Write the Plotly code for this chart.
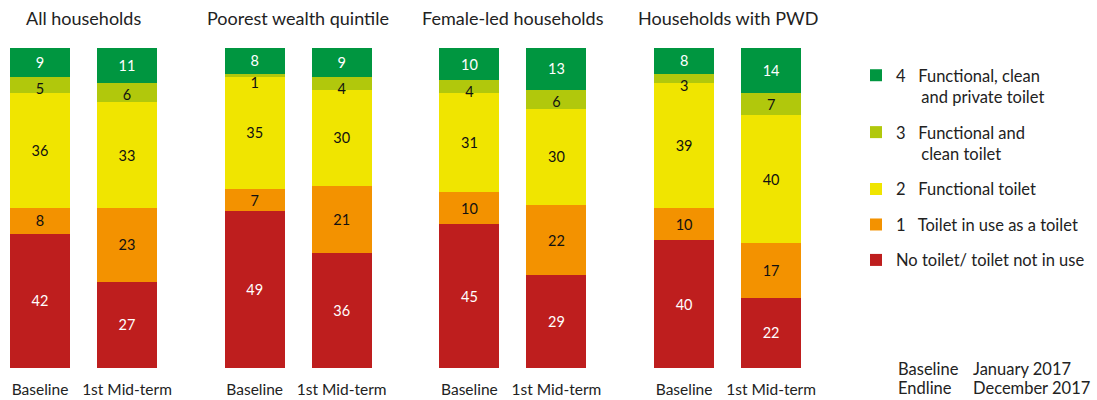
import plotly.graph_objects as go

# ---------------- data ----------------
groups = ["All households", "Poorest wealth quintile", "Female-led households", "Households with PWD"]
periods = ["Baseline", "1st Mid-term"]

no_toilet = [[42, 27], [49, 36], [45, 29], [40, 22]]
in_use = [[8, 23], [7, 21], [10, 22], [10, 17]]
functional = [[36, 33], [35, 30], [31, 30], [39, 40]]
functional_clean = [[5, 6], [1, 4], [4, 6], [3, 7]]
functional_clean_private = [[9, 11], [8, 9], [10, 13], [8, 14]]

NB = "\u00a0"
# (legend name, values, colour, label colour, label anchor)
series = [
    ("No toilet/ toilet not in use", no_toilet, "#be1e1e", "white", "middle"),
    ("1" + NB * 3 + "Toilet in use as a toilet", in_use, "#f39200", "#111111", "middle"),
    ("2" + NB * 3 + "Functional toilet", functional, "#f0e500", "#111111", "middle"),
    ("3" + NB * 3 + "Functional and<br>" + NB * 6 + "clean toilet", functional_clean, "#b1c80c", "#111111", "end"),
    ("4" + NB * 3 + "Functional, clean<br>" + NB * 6 + "and private toilet", functional_clean_private, "#009640", "white", "middle"),
]

# ---------------- layout helpers ----------------
W, H = 1097, 400
FONT = "Lato"
bar_bottom_px, bar_top_px = 368, 48
first_center_px, group_step_px, bar_step_px = 40, 214.7, 87
bar_width_px = 60
lo = -0.45

fig = go.Figure()

n_series = len(series)
for si, (name, vals, color, tcolor, anchor) in enumerate(series):
    for g in range(len(groups)):
        xa = "x" if g == 0 else f"x{g + 1}"
        fig.add_trace(go.Bar(
            x=periods,
            y=vals[g],
            xaxis=xa,
            yaxis="y",
            name=name,
            legendgroup=name,
            legendrank=100 * (n_series - si),
            showlegend=(g == 0),
            marker=dict(color=color, line=dict(width=0)),
            width=bar_width_px / bar_step_px,
            text=vals[g],
            texttemplate="%{text}",
            textposition="inside",
            insidetextanchor=anchor,
            textangle=0,
            constraintext="none",
            textfont=dict(family=FONT, size=14.5, color=tcolor),
            hoverinfo="skip",
        ))

layout = dict(
    width=W, height=H,
    barmode="stack",
    paper_bgcolor="white",
    plot_bgcolor="white",
    margin=dict(l=0, r=0, t=0, b=0),
    font=dict(family=FONT, size=15, color="#222222"),
    yaxis=dict(
        domain=[(H - bar_bottom_px) / H, (H - bar_top_px) / H],
        range=[0, 100], visible=False, anchor="x",
    ),
    legend=dict(
        x=856 / W, xanchor="left",
        y=(H - 58) / H, yanchor="top",
        traceorder="grouped",
        tracegroupgap=11,
        valign="top",
        font=dict(family=FONT, size=16.5, color="#222222"),
        bgcolor="rgba(0,0,0,0)",
    ),
    annotations=[],
)

for g, title in enumerate(groups):
    c0 = first_center_px + group_step_px * g
    left = c0 + lo * bar_step_px
    right = left + 2 * bar_step_px
    key = "xaxis" if g == 0 else f"xaxis{g + 1}"
    layout[key] = dict(
        domain=[left / W, right / W],
        type="category",
        categoryorder="array", categoryarray=periods,
        range=[lo, lo + 2],
        anchor="y",
        showgrid=False, zeroline=False, showline=False,
        ticks="", ticklabelstandoff=10,
        tickfont=dict(family=FONT, size=15.5, color="#222222"),
    )
    layout["annotations"].append(dict(
        text=title, xref="paper", yref="paper",
        x=(c0 + bar_step_px / 2) / W, y=(H - 18) / H,
        xanchor="center", yanchor="middle", showarrow=False,
        font=dict(family=FONT, size=18, color="#222222"),
    ))

rows = [("Baseline", "January 2017", 369), ("Endline", "December 2017", 388)]
for label, date, ypx in rows:
    for txt, xpx in ((label, 896), (date, 971)):
        layout["annotations"].append(dict(
            text=txt, xref="paper", yref="paper",
            x=xpx / W, y=(H - ypx) / H, xanchor="left", yanchor="middle",
            align="left", showarrow=False,
            font=dict(family=FONT, size=16.5, color="#222222"),
        ))

fig.update_layout(**layout)
fig.write_html("out.html")
